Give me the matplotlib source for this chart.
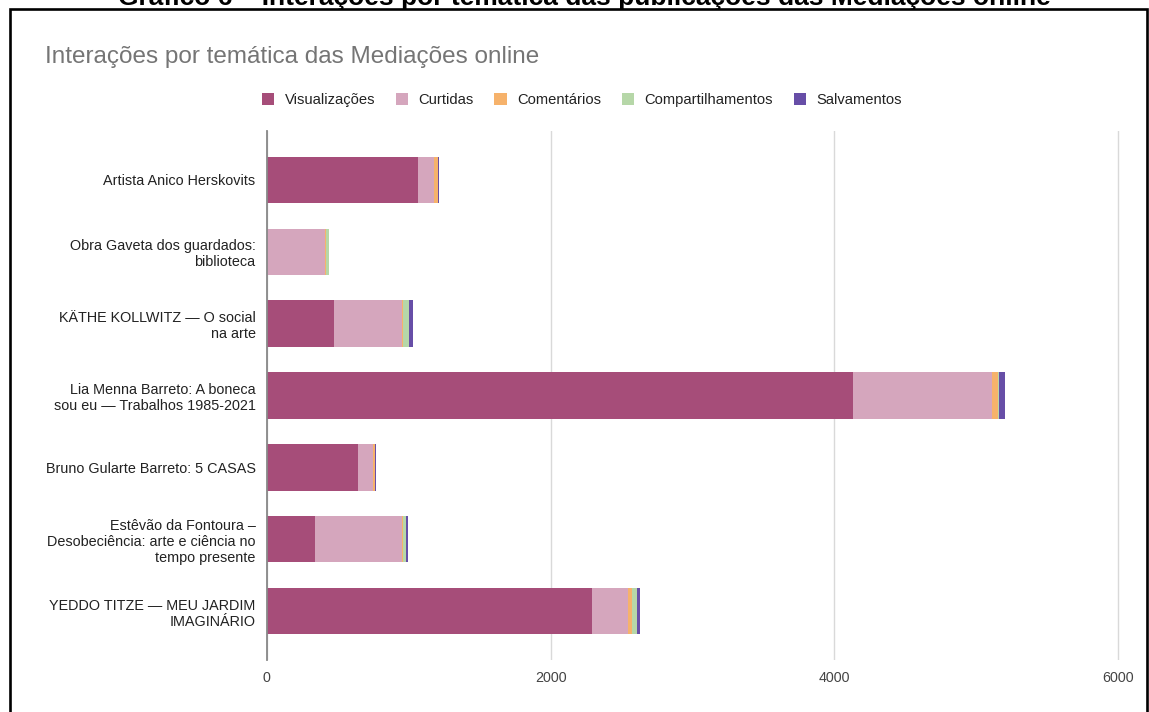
import matplotlib
matplotlib.use("Agg")
import matplotlib.pyplot as plt
from matplotlib.patches import Rectangle

plt.rcParams['font.family'] = ['Liberation Sans', 'DejaVu Sans']

categorias = [
    "Artista Anico Herskovits",
    "Obra Gaveta dos guardados:\nbiblioteca",
    "KÄTHE KOLLWITZ — O social\nna arte",
    "Lia Menna Barreto: A boneca\nsou eu — Trabalhos 1985-2021",
    "Bruno Gularte Barreto: 5 CASAS",
    "Estêvão da Fontoura –\nDesobeciência: arte e ciência no\ntempo presente",
    "YEDDO TITZE — MEU JARDIM\nIMAGINÁRIO",
]
visualizacoes = [1065, 0, 475, 4130, 640, 340, 2290]
curtidas = [115, 410, 480, 980, 112, 610, 258]
comentarios = [25, 8, 3, 45, 9, 12, 28]
compartilhamentos = [2, 18, 42, 3, 2, 19, 31]
salvamentos = [8, 0, 28, 45, 7, 14, 23]

series = [
    ("Visualizações", visualizacoes, "#a64d79"),
    ("Curtidas", curtidas, "#d5a6bd"),
    ("Comentários", comentarios, "#f6b26b"),
    ("Compartilhamentos", compartilhamentos, "#b6d7a8"),
    ("Salvamentos", salvamentos, "#674ea7"),
]

W, H = 1149, 712
fig = plt.figure(figsize=(W / 100, H / 100), dpi=100)
ax = fig.add_axes([266.7 / W, 1 - 660 / H, (1122.6 - 266.7) / W, (660 - 131) / H])

y = list(range(len(categorias)))
left = [0] * len(categorias)
for nome, vals, cor in series:
    ax.barh(y, vals, left=left, height=0.645, color=cor, label=nome, zorder=3)
    left = [a + b for a, b in zip(left, vals)]

ax.set_xlim(0, 6030)
ax.set_ylim(6.68, -0.68)
ax.set_xticks([0, 2000, 4000, 6000])
ax.set_xticklabels(["0", "2000", "4000", "6000"])
ax.set_yticks(y)
ax.set_yticklabels(categorias, fontsize=10.4, color="#222222")
ax.tick_params(axis="y", length=0, pad=8)
ax.tick_params(axis="x", length=0, pad=8, labelsize=10.3, labelcolor="#444444")
ax.grid(axis="x", color="#d9d9d9", linewidth=1, zorder=0)
for s in ["top", "right", "bottom"]:
    ax.spines[s].set_visible(False)
ax.spines["left"].set_color("#888888")
ax.spines["left"].set_linewidth(1.3)
ax.spines["left"].set_zorder(4)

fig.text(45 / W, 1 - 57 / H, "Interações por temática das Mediações online",
         fontsize=17.5, color="#757575", va="center", ha="left")

fig.legend(loc="center", bbox_to_anchor=(582 / W, 1 - 100 / H), ncol=5,
           frameon=False, fontsize=10.6, handlelength=0.85, handleheight=0.85,
           handletextpad=0.7, columnspacing=1.4, labelcolor="#222222")

fig.text(584 / W, 1 - 5 / H,
         "Gráfico 6 – Interações por temática das publicações das Mediações online",
         fontsize=19, fontweight="bold", ha="center", va="baseline", color="black")

fig.patches.append(Rectangle((9.5 / W, -0.1), (1146.5 - 9.5) / W, 1.1 - 9.5 / H,
                             transform=fig.transFigure, fill=False,
                             edgecolor="black", linewidth=1.9))

fig.savefig("out.png", dpi=100)
